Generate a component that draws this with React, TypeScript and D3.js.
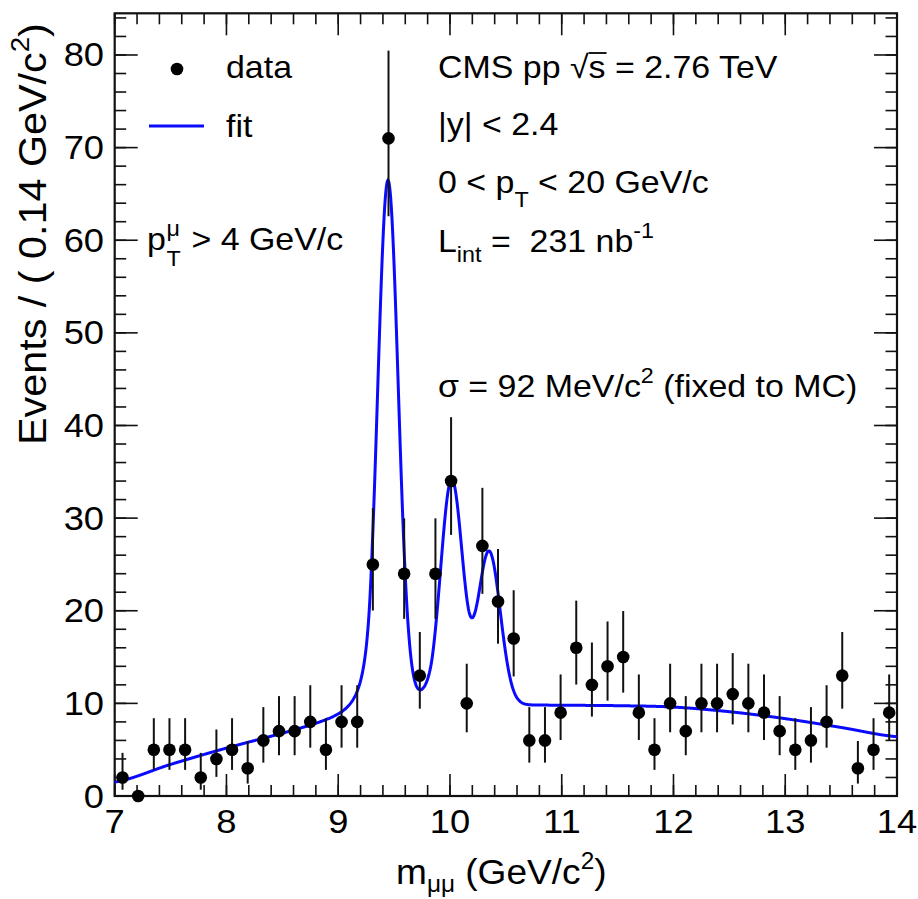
import React from "react";
import * as d3 from "d3";

// ---- data ----
const binCenters = [7.07, 7.21, 7.35, 7.49, 7.63, 7.77, 7.91, 8.05, 8.19, 8.33, 8.47, 8.61, 8.75, 8.89, 9.03, 9.17, 9.31, 9.45, 9.59, 9.73, 9.87, 10.01, 10.15, 10.29, 10.43, 10.57, 10.71, 10.85, 10.99, 11.13, 11.27, 11.41, 11.55, 11.69, 11.83, 11.97, 12.11, 12.25, 12.39, 12.53, 12.67, 12.81, 12.95, 13.09, 13.23, 13.37, 13.51, 13.65, 13.79, 13.93];
const counts = [2, 0, 5, 5, 5, 2, 4, 5, 3, 6, 7, 7, 8, 5, 8, 8, 25, 71, 24, 13, 24, 34, 10, 27, 21, 17, 6, 6, 9, 16, 12, 14, 15, 9, 5, 10, 7, 10, 10, 11, 10, 9, 7, 5, 6, 8, 13, 3, 5, 9];

// fit model parameters
const peakMass = [9.445, 10.014, 10.35];
const peakHeight = [57, 23.7, 16.5];
const peakSigma = [0.092, 0.0975, 0.1007];
const cbAlpha = 1.7;
const cbN = 3;
const bgMass = [7, 7.5, 8, 8.5, 9, 9.5, 10, 10.5, 11, 11.5, 12, 12.5, 13, 13.5, 14];
const bgLevel = [1.5, 3.4, 5.15, 6.7, 8.2, 9.4, 9.95, 9.85, 9.8, 9.75, 9.6, 9.1, 8.35, 7.4, 6.4];

const xTickValues = [7, 8, 9, 10, 11, 12, 13, 14];
const xTickLabels = ["7", "8", "9", "10", "11", "12", "13", "14"];
const yTickValues = [0, 10, 20, 30, 40, 50, 60, 70, 80];
const yTickLabels = ["0", "10", "20", "30", "40", "50", "60", "70", "80"];

// ---- layout ----
const W = 918, H = 899;
const L = 114.7, R = 897, T = 13.3, B = 796;
const FONT = "'Liberation Sans', Arial, Helvetica, sans-serif";
const SX = 1.06;

const x = d3.scaleLinear().domain([7, 14]).range([L, R]);
const y = d3.scaleLinear().domain([0, 84.5]).range([B, T]);

function catmull(xs: number[], ys: number[], v: number) {
  const h = xs[1] - xs[0];
  let i = Math.floor((v - xs[0]) / h);
  i = Math.max(0, Math.min(xs.length - 2, i));
  const t = (v - xs[i]) / h;
  const p0 = ys[Math.max(0, i - 1)], p1 = ys[i], p2 = ys[i + 1], p3 = ys[Math.min(ys.length - 1, i + 2)];
  const t2 = t * t, t3 = t2 * t;
  return 0.5 * (2 * p1 + (-p0 + p2) * t + (2 * p0 - 5 * p1 + 4 * p2 - p3) * t2 + (-p0 + 3 * p1 - 3 * p2 + p3) * t3);
}

function crystalBall(v: number, m: number, s: number) {
  const t = (v - m) / s;
  if (t > -cbAlpha) return Math.exp(-0.5 * t * t);
  const A = Math.pow(cbN / cbAlpha, cbN) * Math.exp(-0.5 * cbAlpha * cbAlpha);
  const Bc = cbN / cbAlpha - cbAlpha;
  return A * Math.pow(Bc - t, -cbN);
}

function fitValue(v: number) {
  let s = catmull(bgMass, bgLevel, v);
  for (let k = 0; k < peakMass.length; k++) s += peakHeight[k] * crystalBall(v, peakMass[k], peakSigma[k]);
  return s;
}

function poissonLow(n: number) { return n > 0 ? n - Math.sqrt(n - 0.25) : 0; }
function poissonHigh(n: number) { return n + 1 + Math.sqrt(n + 0.75); }

const fitSamples = d3.range(0, 1401).map((i) => 7 + (i * 7) / 1400);
const fitPath = d3.line<number>().x((d) => x(d)).y((d) => y(fitValue(d)))(fitSamples) || "";

function Txt({ tx, ty, rot, children, anchor, size, sx }: any) {
  const tr = `translate(${tx},${ty})${rot ? ` rotate(${rot})` : ""} scale(${sx || SX},1)`;
  return (
    <text transform={tr} fontFamily={FONT} fontSize={size || 32} fill="#000" textAnchor={anchor || "start"} style={{ whiteSpace: "pre" }}>
      {children}
    </text>
  );
}

export default function App() {
  const xMinor = d3.range(7, 14.0001, 0.2);
  const yMinor = d3.range(0, 84.5, 2);
  return (
    <svg width={W} height={H} style={{ display: "block", position: "absolute", left: 0, top: 0, background: "#fff" }}>
      <rect x={0} y={0} width={W} height={H} fill="#fff" />
      {/* ticks */}
      <g stroke="#111" strokeWidth={1.6}>
        {xMinor.map((v, i) => (
          <g key={"xm" + i}>
            <line x1={x(v)} x2={x(v)} y1={B} y2={B - 11} />
            <line x1={x(v)} x2={x(v)} y1={T} y2={T + 11} />
          </g>
        ))}
        {xTickValues.map((v, i) => (
          <g key={"xM" + i}>
            <line x1={x(v)} x2={x(v)} y1={B} y2={B - 22} />
            <line x1={x(v)} x2={x(v)} y1={T} y2={T + 22} />
          </g>
        ))}
        {yMinor.map((v, i) => (
          <g key={"ym" + i}>
            <line x1={L} x2={L + 11.5} y1={y(v)} y2={y(v)} />
            <line x1={R} x2={R - 11.5} y1={y(v)} y2={y(v)} />
          </g>
        ))}
        {yTickValues.map((v, i) => (
          <g key={"yM" + i}>
            <line x1={L} x2={L + 23} y1={y(v)} y2={y(v)} />
            <line x1={R} x2={R - 23} y1={y(v)} y2={y(v)} />
          </g>
        ))}
      </g>
      {/* frame */}
      <rect x={L} y={T} width={R - L} height={B - T} fill="none" stroke="#111" strokeWidth={2.2} />
      {/* tick labels */}
      {xTickValues.map((v, i) => (
        <Txt key={"xl" + i} tx={x(v)} ty={833} anchor="middle" size={33} sx={1.1}>{xTickLabels[i]}</Txt>
      ))}
      {yTickValues.map((v, i) => (
        <Txt key={"yl" + i} tx={104} ty={y(v) + 11.5} anchor="end" size={33} sx={1.1}>{yTickLabels[i]}</Txt>
      ))}
      {/* fit curve */}
      <path d={fitPath} fill="none" stroke="#0a0aff" strokeWidth={3} />
      {/* data */}
      <g>
        {binCenters.map((c, i) => {
          const n = counts[i];
          return (
            <g key={"d" + i}>
              {n > 0 && (
                <line x1={x(c)} x2={x(c)} y1={y(poissonLow(n))} y2={y(poissonHigh(n))} stroke="#111" strokeWidth={2} />
              )}
              <circle cx={x(c)} cy={y(n)} r={6.3} fill="#000" />
            </g>
          );
        })}
      </g>
      {/* legend */}
      <circle cx={177} cy={69} r={6.3} fill="#000" />
      <Txt tx={226} ty={78}>data</Txt>
      <line x1={149} x2={204} y1={126} y2={126} stroke="#0a0aff" strokeWidth={3} />
      <Txt tx={226} ty={137}>fit</Txt>
      {/* pT mu */}
      <Txt tx={147} ty={250}>
        <tspan>p</tspan>
        <tspan x={18.5} dy={-14} fontSize={22}>μ</tspan>
        <tspan x={18.5} dy={30} fontSize={22}>T</tspan>
        <tspan x={33} dy={-16}>{" > 4 GeV/c"}</tspan>
      </Txt>
      {/* right texts */}
      <Txt tx={438} ty={78}>
        <tspan>CMS pp √</tspan>
        <tspan>s</tspan>
        <tspan>{" = 2.76 TeV"}</tspan>
      </Txt>
      <line x1={438 + 142 * SX} x2={438 + 159 * SX} y1={53} y2={53} stroke="#000" strokeWidth={1.8} />
      <Txt tx={438} ty={135}>|y| &lt; 2.4</Txt>
      <Txt tx={438} ty={193}>
        <tspan>0 &lt; p</tspan>
        <tspan dy={14} fontSize={22}>T</tspan>
        <tspan dy={-14}>{" < 20 GeV/c"}</tspan>
      </Txt>
      <Txt tx={438} ty={252}>
        <tspan>L</tspan>
        <tspan dy={10} fontSize={22}>int</tspan>
        <tspan dy={-10}>{" =\u00a0 231 nb"}</tspan>
        <tspan dy={-14} fontSize={22}>-1</tspan>
      </Txt>
      <Txt tx={438} ty={397}>
        <tspan>σ = 92 MeV/c</tspan>
        <tspan dy={-14} fontSize={22}>2</tspan>
        <tspan dy={14}>{" (fixed to MC)"}</tspan>
      </Txt>
      {/* axis titles */}
      <Txt tx={396} ty={884} size={35}>
        <tspan>m</tspan>
        <tspan dy={8} fontSize={23}>μμ</tspan>
        <tspan dy={-8}>{" (GeV/c"}</tspan>
        <tspan dy={-15} fontSize={23}>2</tspan>
        <tspan dy={15}>)</tspan>
      </Txt>
      <Txt tx={46} ty={445} rot={-90} size={39}>
        <tspan>{"Events / ( 0.14 GeV/c"}</tspan>
        <tspan dy={-17} fontSize={26}>2</tspan>
        <tspan dy={17}>)</tspan>
      </Txt>
    </svg>
  );
}
